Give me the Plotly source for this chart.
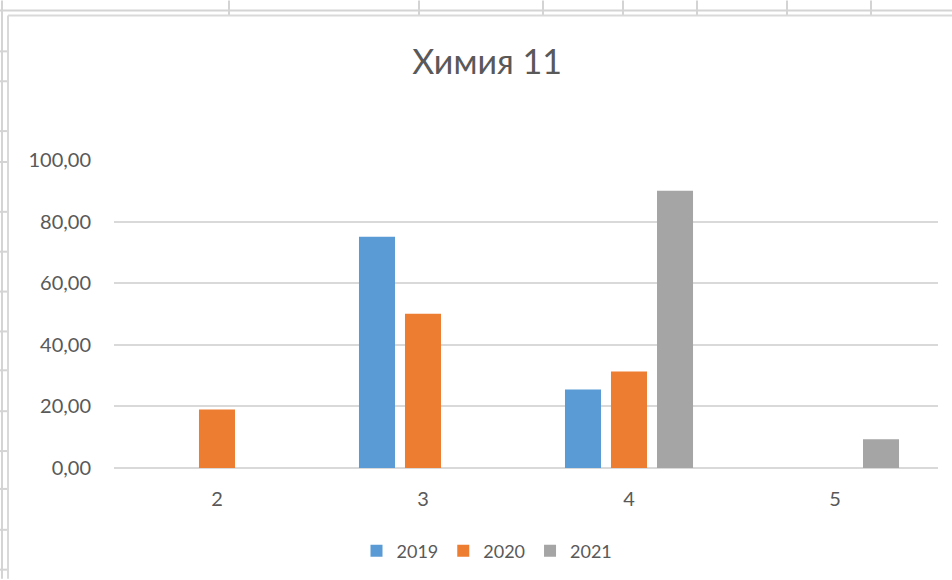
import plotly.graph_objs as go

# data
categories = ['2', '3', '4', '5']
years = ['2019', '2020', '2021']
values_2019 = [0, 75.1, 25.5, 0]
values_2020 = [19.0, 50.1, 31.3, 0]
values_2021 = [0, 0, 90.0, 9.3]
y_ticks = [0, 20, 40, 60, 80, 100]

colors = ['#5B9BD5', '#ED7D31', '#A5A5A5']
FONT = 'Lato'
GREY = '#595959'

W, H = 952, 580
L, R, T, B = 114, 14, 160, 111


def px(x):
    return (x - L) / (W - L - R)


def py(y):
    return (H - B - y) / (H - T - B)


fig = go.Figure()
for name, vals, c in zip(years, [values_2019, values_2020, values_2021], colors):
    fig.add_trace(go.Bar(x=categories, y=vals, name=name, marker=dict(color=c, line=dict(width=0))))

# spreadsheet lines around the embedded chart
sheet = '#d4d4d4'
shapes = [
    dict(type='line', x0=px(0), x1=px(W), y0=py(10), y1=py(10)),
    dict(type='line', x0=px(2), x1=px(2), y0=py(0), y1=py(H)),
]
for x in [229, 419, 543, 623, 697, 787, 871]:
    shapes.append(dict(type='line', x0=px(x), x1=px(x), y0=py(0), y1=py(15)))
for y in [51, 81, 131, 162, 212, 252, 292, 332, 371, 412, 452, 490, 531, 571]:
    shapes.append(dict(type='line', x0=px(0), x1=px(8), y0=py(y), y1=py(y)))
for s in shapes:
    s.update(xref='paper', yref='paper', line=dict(color=sheet, width=2), layer='below')
# chart frame
shapes.append(dict(type='line', xref='paper', yref='paper', x0=px(8), x1=px(8), y0=py(15), y1=py(H),
                   line=dict(color='#d9d9d9', width=2)))
shapes.append(dict(type='line', xref='paper', yref='paper', x0=px(8), x1=px(W), y0=py(15), y1=py(15),
                   line=dict(color='#d9d9d9', width=2)))

fig.update_layout(
    width=W, height=H,
    margin=dict(l=L, r=R, t=T, b=B),
    paper_bgcolor='white', plot_bgcolor='white',
    separators=', ',
    font=dict(family=FONT, size=20, color=GREY),
    title=dict(text='Химия 11', x=487 / W, xanchor='center', y=1 - 62 / H, yanchor='middle',
               font=dict(family=FONT, size=34, color=GREY)),
    barmode='group', bargap=0.33, bargroupgap=0.217,
    xaxis=dict(showgrid=False, showline=False, zeroline=False, ticks='', ticklabelstandoff=17,
               tickfont=dict(size=20, color=GREY)),
    yaxis=dict(range=[0, 100], tickvals=y_ticks, tickformat='.2f', showgrid=True,
               gridcolor='#d9d9d9', gridwidth=1.5, zeroline=True, zerolinecolor='#d9d9d9',
               zerolinewidth=1.5, showline=False, ticks='', ticklabelstandoff=22,
               tickfont=dict(size=20, color=GREY)),
    legend=dict(orientation='h', x=px(487), xanchor='center', y=py(551), yanchor='middle',
                font=dict(size=18, color=GREY), itemwidth=30),
    shapes=shapes,
)

fig.write_html('out.html', config={'displayModeBar': False},
               post_script="document.body.style.margin = '0px';")
